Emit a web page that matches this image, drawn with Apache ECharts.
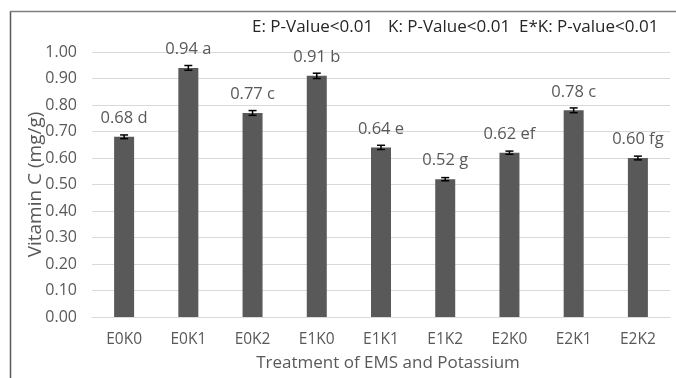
<!DOCTYPE html>
<html>
<head>
<meta charset="utf-8">
<script src="https://cdn.jsdelivr.net/npm/echarts@6/dist/echarts.min.js"></script>
<style>
html,body{margin:0;padding:0;background:#fff;}
#chart{width:676px;height:378px;}
</style>
</head>
<body>
<div id="chart"></div>
<script>
const categories = ['E0K0','E0K1','E0K2','E1K0','E1K1','E1K2','E2K0','E2K1','E2K2'];
const values = [0.68, 0.94, 0.77, 0.91, 0.64, 0.52, 0.62, 0.78, 0.60];
const errors = [0.007, 0.009, 0.009, 0.010, 0.008, 0.006, 0.006, 0.009, 0.007];
const letters = ['d','a','c','b','e','g','ef','c','fg'];
const annotations = ['E: P-Value<0.01', 'K: P-Value<0.01', 'E*K: P-value<0.01'];
const yTitle = 'Vitamin C (mg/g)';
const xTitle = 'Treatment of EMS and Potassium';

const FONT = '"Open Sans", sans-serif';
const TXT = '#595959';

const chart = echarts.init(document.getElementById('chart'));
const errData = values.map((v, i) => [i, v - errors[i], v + errors[i]]);

chart.setOption({
  animation: false,
  backgroundColor: '#fff',
  grid: {left: 92, right: 6, top: 52, bottom: 61},
  xAxis: {
    type: 'category',
    data: categories,
    axisLine: {lineStyle: {color: '#d9d9d9', width: 1}},
    axisTick: {show: false},
    axisLabel: {color: TXT, fontFamily: FONT, fontSize: 15.5, margin: 15},
    name: xTitle,
    nameLocation: 'middle',
    nameGap: 38,
    nameMoveOverlap: false,
    nameTextStyle: {color: TXT, fontFamily: FONT, fontSize: 17, padding: [0, 0, 0, 14]}
  },
  yAxis: {
    type: 'value',
    min: 0, max: 1, interval: 0.1,
    axisLine: {show: false},
    axisTick: {show: false},
    splitLine: {lineStyle: {color: '#d9d9d9', width: 1}},
    axisLabel: {color: TXT, fontFamily: FONT, fontSize: 16, margin: 15,
      formatter: v => v.toFixed(2)},
    name: yTitle,
    nameLocation: 'middle',
    nameGap: 47,
    nameMoveOverlap: false,
    nameTextStyle: {color: TXT, fontFamily: FONT, fontSize: 19}
  },
  series: [
    {
      type: 'bar',
      data: values,
      barWidth: 20,
      itemStyle: {color: '#595959'},
      label: {
        show: true,
        position: 'top',
        distance: 10,
        color: TXT,
        fontFamily: FONT,
        fontSize: 16.5,
        formatter: p => values[p.dataIndex].toFixed(2) + ' ' + letters[p.dataIndex]
      }
    },
    {
      type: 'custom',
      data: errData,
      z: 5,
      renderItem: function (params, api) {
        const x = api.value(0);
        const lo = api.coord([x, api.value(1)]);
        const hi = api.coord([x, api.value(2)]);
        const hw = 4;
        const st = {stroke: '#000', lineWidth: 1.5};
        return {
          type: 'group',
          children: [
            {type: 'line', shape: {x1: lo[0], y1: lo[1], x2: hi[0], y2: hi[1]}, style: st},
            {type: 'line', shape: {x1: lo[0]-hw, y1: lo[1], x2: lo[0]+hw, y2: lo[1]}, style: st},
            {type: 'line', shape: {x1: hi[0]-hw, y1: hi[1], x2: hi[0]+hw, y2: hi[1]}, style: st}
          ]
        };
      }
    }
  ],
  graphic: [
    {type: 'line', shape: {x1: 10.5, y1: 11, x2: 10.5, y2: 378}, style: {stroke: '#595959', lineWidth: 1.5}},
    {type: 'line', shape: {x1: 10, y1: 11.5, x2: 676, y2: 11.5}, style: {stroke: '#7f7f7f', lineWidth: 1.5}},
    {type: 'text', left: 252, top: 19, style: {text: annotations[0], fill: '#262626', font: '17px "Open Sans", sans-serif'}},
    {type: 'text', left: 388, top: 19, style: {text: annotations[1], fill: '#262626', font: '17px "Open Sans", sans-serif'}},
    {type: 'text', left: 519, top: 19, style: {text: annotations[2], fill: '#262626', font: '17px "Open Sans", sans-serif'}}
  ]
});
</script>
</body>
</html>
